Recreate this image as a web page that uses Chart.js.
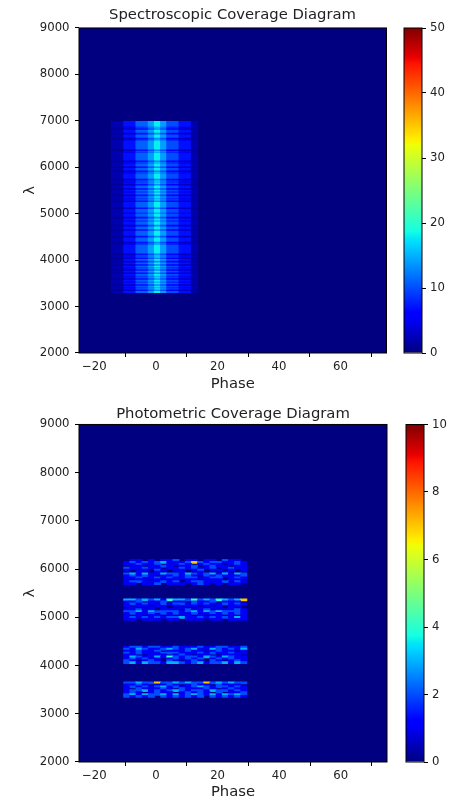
<!DOCTYPE html>
<html>
<head>
<meta charset="utf-8">
<script src="https://cdn.jsdelivr.net/npm/chart.js@4"></script>
<style>
  html, body { margin: 0; padding: 0; background: #fff; overflow: hidden; }
  canvas { position: absolute; }
</style>
</head>
<body>
<canvas id="specChart" width="465" height="400" style="left:0;top:0"></canvas>
<canvas id="specBar" width="58" height="400" style="left:395px;top:0"></canvas>
<canvas id="photChart" width="466" height="402" style="left:0;top:400px"></canvas>
<canvas id="photBar" width="58" height="400" style="left:397px;top:400px"></canvas>
<script>
// axis ticks
const xTicks = [-20, 0, 20, 40, 60];
const yTicks = [2000, 3000, 4000, 5000, 6000, 7000, 8000, 9000];
const specBarTicks = [0, 10, 20, 30, 40, 50];
const photBarTicks = [0, 2, 4, 6, 8, 10];

// spectroscopic coverage: counts per phase column
const specPhase = [-13.5, -11.5, -9.5, -7.5, -5.5, -3.5, -1.5, 0.5, 2.5, 4.5, 6.5, 8.5, 10.5, 12.5];
const specCounts = [2, 2, 7, 7, 11, 11, 14, 18, 14, 10, 10, 7, 7, 2];
const specFaintCounts = [2, 2, 5, 5, 9, 9, 12, 15, 12, 8, 8, 5, 5, 2];
const specDipCounts = [1, 1, 3, 3, 7, 7, 10, 13, 10, 6, 6, 3, 3, 1];
const specRange = [3300, 6990];
// wavelengths with fewer spectra (dark lines)
const specDips = [6825, 6724, 6616, 6366, 6129, 6000, 5914, 5733, 5625, 5532, 5396, 5267, 5117, 4914,
  4742, 4650, 4505, 4376, 4126, 4040, 3967, 3896, 3787, 3717, 3594, 3465, 3351];
const specFaint = [6861, 6588, 6323, 6092, 5877, 5683, 5468, 5324, 5009, 4843, 4341, 4090, 3837, 3644, 3523, 3407];
const specLineWidth = 18;

// photometric coverage: one digit per phase column, rows of 40 A from the band top down
const photPhase = [-9.5, -7.5, -5.5, -3.5, -1.5, 0.5, 2.5, 4.5, 6.5, 8.5, 10.5, 12.5, 14.5, 16.5, 18.5, 20.5, 22.5, 24.5, 26.5, 28.5];
const photBandTop = [6200, 5380, 4400, 3660];
const photRowStep = 40;
const photBand1 = [
  '01101011201101102110',
  '12121231112721221121',
  '11211201121012110121',
  '01101121011201211011',
  '21121101121211201211',
  '10110210110120110101',
  '00100100010010001000',
  '23131132213212313132',
  '12121011212102121112',
  '11201212112211220121',
  '10110101101101110110',
  '12211121201221112021',
  '11011201110121010110'
];
const photBand2 = [
  '33232314332423243237',
  '11201120110211201110',
  '12121121221212112121',
  '10110100101101010110',
  '01001010010010100100',
  '11211011102112011121',
  '22313222212313232221',
  '12112021211201212121',
  '10101101011010110101',
  '12121212231121212131',
  '11011101101110110111'
];
const photBand3 = [
  '12212211211121122112',
  '21321123212311321213',
  '11211201112110121101',
  '21211122211121211211',
  '11001110121011001110',
  '13211314212213213211',
  '12121101212120121211',
  '21012102101210210121',
  '23132213321231223132'
];
const photBand4 = [
  '22322722323227232322',
  '11210112101211021110',
  '12121231211232122121',
  '10211121021112101211',
  '12231212321221322121',
  '12101211012121020112',
  '23132231312321313232',
  '21212021212120212121'
];

const FONT = "'DejaVu Sans', sans-serif";
Chart.defaults.font.family = FONT;
Chart.defaults.color = '#222';

// matplotlib jet
const JET = {
  r: [[0, 0], [0.35, 0], [0.66, 1], [0.89, 1], [1, 0.5]],
  g: [[0, 0], [0.125, 0], [0.375, 1], [0.64, 1], [0.91, 0], [1, 0]],
  b: [[0, 0.5], [0.11, 1], [0.34, 1], [0.65, 0], [1, 0]]
};
const JET_STOPS = [0, 0.11, 0.125, 0.34, 0.35, 0.375, 0.64, 0.65, 0.66, 0.89, 0.91, 1];
function interp(pts, t) {
  for (let i = 1; i < pts.length; i++) {
    if (t <= pts[i][0]) {
      const [x0, y0] = pts[i - 1], [x1, y1] = pts[i];
      return y0 + (y1 - y0) * (t - x0) / (x1 - x0);
    }
  }
  return pts[pts.length - 1][1];
}
function jet(t) {
  t = Math.max(0, Math.min(1, t));
  const c = k => Math.round(255 * interp(JET[k], t));
  return `rgb(${c('r')},${c('g')},${c('b')})`;
}

function specCells() {
  const cells = [];
  specPhase.forEach((x, i) => cells.push({x, y: [...specRange], v: specCounts[i]}));
  specFaint.forEach(l => specPhase.forEach((x, i) =>
    cells.push({x, y: [l - specLineWidth / 2, l + specLineWidth / 2], v: specFaintCounts[i]})));
  specDips.forEach(l => specPhase.forEach((x, i) =>
    cells.push({x, y: [l - specLineWidth / 2, l + specLineWidth / 2], v: specDipCounts[i]})));
  return cells;
}

function photCells() {
  const cells = [];
  [photBand1, photBand2, photBand3, photBand4].forEach((rows, b) => rows.forEach((row, r) => {
    const hi = photBandTop[b] - r * photRowStep;
    [...row].forEach((ch, i) => {
      const v = Number(ch);
      if (v > 0) cells.push({x: photPhase[i], y: [hi - photRowStep, hi], v});
    });
  }));
  return cells;
}

const areaPlugin = {
  id: 'area',
  beforeDatasetsDraw(chart) {
    const {ctx, chartArea: a} = chart;
    ctx.save();
    ctx.fillStyle = jet(0);
    ctx.fillRect(a.left, a.top, a.width, a.height);
    ctx.restore();
  }
};
const framePlugin = {
  id: 'frame',
  afterDraw(chart) {
    const {ctx, chartArea: a} = chart;
    ctx.save();
    ctx.strokeStyle = '#000';
    ctx.lineWidth = 1;
    ctx.strokeRect(a.left, a.top, a.width, a.height);
    ctx.restore();
  }
};

const tickGrid = {drawOnChartArea: false, drawTicks: true, tickLength: 4, color: '#000', lineWidth: 1};
const tickFont = {family: FONT, size: 11.7};
const minus = v => String(v).replace('-', '\u2212');

function heatmap(id, title, cells, vmax, p) {
  return new Chart(document.getElementById(id), {
    type: 'bar',
    data: {
      datasets: [{
        data: cells,
        backgroundColor: c => c.raw ? jet(c.raw.v / vmax) : 'transparent',
        grouped: false,
        barPercentage: 1,
        categoryPercentage: 1,
        inflateAmount: 0.4,
        borderWidth: 0
      }]
    },
    options: {
      responsive: false,
      animation: false,
      plugins: {
        legend: {display: false},
        tooltip: {enabled: false},
        title: {
          display: true, text: title, color: '#222',
          font: {family: FONT, size: 14.8, weight: 'normal'},
          padding: {top: p.titleTop, bottom: p.titleBottom}
        }
      },
      scales: {
        x: {
          type: 'linear', min: -25, max: 75, offset: false,
          afterBuildTicks: s => { s.ticks = xTicks.map(value => ({value})); },
          afterFit: s => { s.height = p.xHeight; },
          grid: tickGrid,
          border: {display: false},
          ticks: {font: tickFont, color: '#222', padding: 3, maxRotation: 0, callback: minus},
          title: {display: true, text: 'Phase', color: '#222', font: {family: FONT, size: 14.8},
            padding: {top: 0, bottom: p.xTitleBottom}}
        },
        y: {
          type: 'linear', min: 2000, max: 9000,
          afterBuildTicks: s => { s.ticks = yTicks.map(value => ({value})); },
          afterFit: s => { s.width = 79; },
          grid: tickGrid,
          border: {display: false},
          ticks: {font: tickFont, color: '#222', padding: 5.5, callback: v => String(v)},
          title: {display: true, text: 'λ', color: '#222', font: {family: FONT, size: 14.8},
            padding: {top: 21, bottom: 0}}
        },
        // empty right-hand spacer so the title centres over the plot area
        spacer: {
          type: 'linear', position: 'right', display: true,
          grid: {display: false}, border: {display: false}, ticks: {display: false},
          afterFit: s => { s.width = p.right; }
        }
      }
    },
    plugins: [areaPlugin, framePlugin]
  });
}

function colorbar(id, vmax, ticks, padTop, padBottom) {
  return new Chart(document.getElementById(id), {
    type: 'bar',
    data: {
      labels: [''],
      datasets: [{
        data: [[0, vmax]],
        backgroundColor: c => {
          const {chartArea, scales, ctx} = c.chart;
          if (!chartArea) return jet(0);
          const g = ctx.createLinearGradient(0, scales.y.getPixelForValue(0), 0, scales.y.getPixelForValue(vmax));
          JET_STOPS.forEach(t => g.addColorStop(t, jet(t)));
          return g;
        },
        barPercentage: 1,
        categoryPercentage: 1,
        inflateAmount: 0,
        borderWidth: 0
      }]
    },
    options: {
      responsive: false,
      animation: false,
      layout: {padding: {left: 9, right: 0, top: padTop, bottom: padBottom}},
      plugins: {legend: {display: false}, tooltip: {enabled: false}},
      scales: {
        x: {display: false},
        y: {
          position: 'right', min: 0, max: vmax,
          afterBuildTicks: s => { s.ticks = ticks.map(value => ({value})); },
          afterFit: s => { s.width = 31; },
          grid: tickGrid,
          border: {display: false},
          ticks: {font: tickFont, color: '#222', padding: 4}
        }
      }
    },
    plugins: [framePlugin]
  });
}

heatmap('specChart', 'Spectroscopic Coverage Diagram', specCells(), 50,
  {right: 78.5, titleTop: 6.6, titleBottom: 3.6, xHeight: 47, xTitleBottom: 6.6});
colorbar('specBar', 50, specBarTicks, 28, 47);
heatmap('photChart', 'Photometric Coverage Diagram', photCells(), 10,
  {right: 79, titleTop: 5.1, titleBottom: 1.6, xHeight: 40, xTitleBottom: 0.6});
colorbar('photBar', 10, photBarTicks, 24.5, 38);
</script>
</body>
</html>
